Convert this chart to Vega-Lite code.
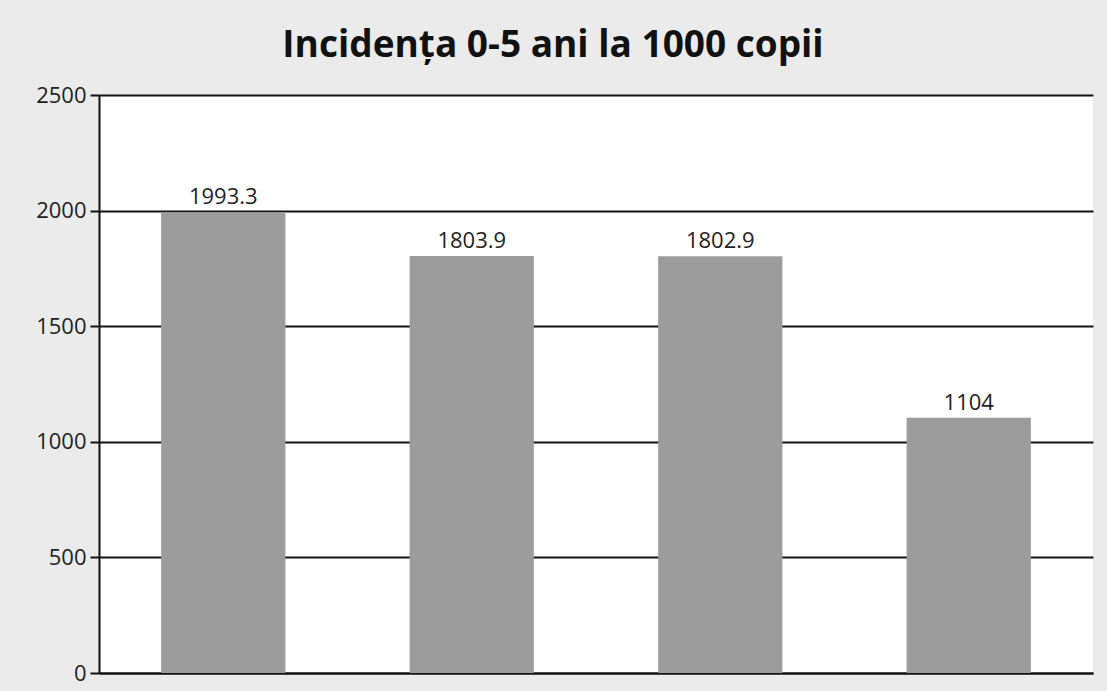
{
  "$schema": "https://vega.github.io/schema/vega-lite/v6.json",
  "width": 994,
  "height": 578,
  "autosize": {"type": "none"},
  "padding": {"left": 99, "top": 95, "right": 14, "bottom": 18},
  "background": "#ebebeb",
  "title": {
    "text": "Incidența 0-5 ani la 1000 copii",
    "fontSize": 37,
    "font": "Open Sans",
    "fontWeight": "bold",
    "color": "#111111",
    "anchor": "middle",
    "dx": -43,
    "offset": 19
  },
  "config": {
    "view": {"fill": "white", "stroke": null},
    "font": "Open Sans"
  },
  "data": {
    "values": [
      {"cat": "A", "value": 1993.3, "label": "1993.3"},
      {"cat": "B", "value": 1803.9, "label": "1803.9"},
      {"cat": "C", "value": 1802.9, "label": "1802.9"},
      {"cat": "D", "value": 1104, "label": "1104"}
    ]
  },
  "encoding": {
    "x": {
      "field": "cat",
      "type": "nominal",
      "sort": null,
      "scale": {"paddingInner": 0.5, "paddingOuter": 0.25},
      "axis": {"labels": false, "ticks": false, "title": null, "domain": true, "domainColor": "#111111", "domainWidth": 2}
    }
  },
  "layer": [
    {
      "mark": {"type": "bar", "color": "#9c9c9c"},
      "encoding": {
        "y": {
          "field": "value",
          "type": "quantitative",
          "scale": {"domain": [0, 2500], "nice": false},
          "axis": {
            "values": [0, 500, 1000, 1500, 2000, 2500],
            "title": null,
            "grid": true,
            "gridColor": "#111111",
            "gridWidth": 2,
            "gridOpacity": 1,
            "domainColor": "#111111",
            "domainWidth": 2,
            "tickColor": "#111111",
            "tickWidth": 2,
            "tickSize": 9,
            "labelFontSize": 22,
            "labelColor": "#222222",
            "labelPadding": 4,
            "labelFlush": false,
            "format": "d"
          }
        }
      }
    },
    {
      "mark": {"type": "text", "baseline": "bottom", "dy": -3, "fontSize": 22, "color": "#222222"},
      "encoding": {
        "y": {"field": "value", "type": "quantitative"},
        "text": {"field": "label"}
      }
    }
  ]
}
